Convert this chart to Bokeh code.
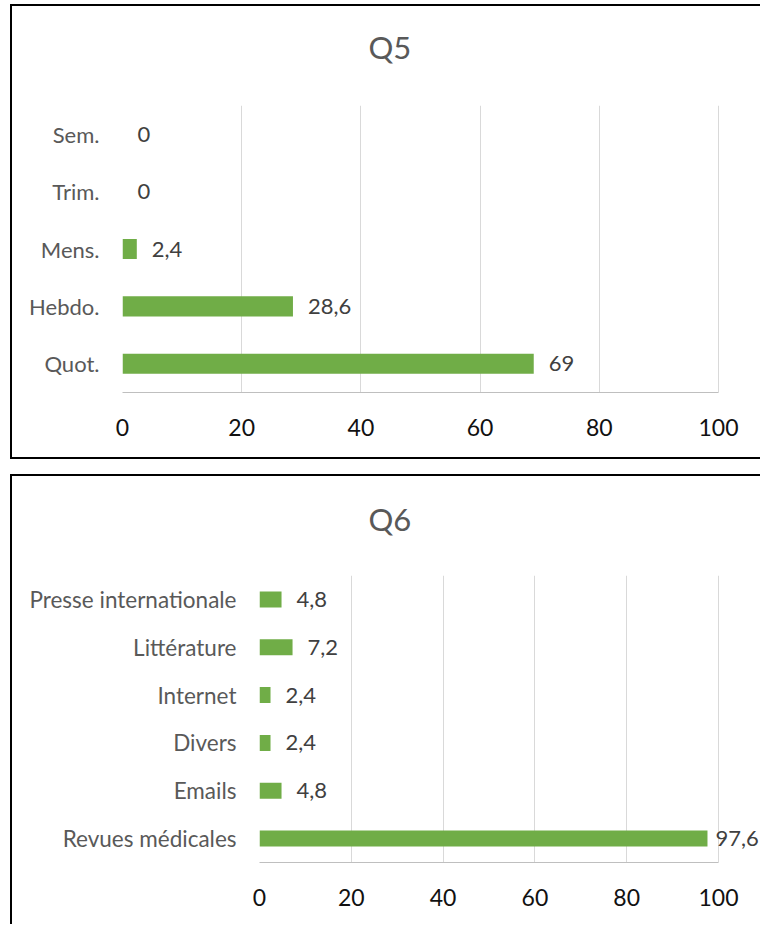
from bokeh.plotting import figure
from bokeh.models import ColumnDataSource, FactorRange, Range1d, FixedTicker, LabelSet, Title
from bokeh.core.properties import value
from bokeh.layouts import column
from bokeh.embed import file_html
from bokeh.resources import INLINE

# ---- data ----
q5_title = "Q5"
q5_categories = ["Sem.", "Trim.", "Mens.", "Hebdo.", "Quot."]   # top to bottom
q5_values = [0, 0, 2.4, 28.6, 69]

q6_title = "Q6"
q6_categories = ["Presse internationale", "Littérature", "Internet", "Divers", "Emails", "Revues médicales"]
q6_values = [4.8, 7.2, 2.4, 2.4, 4.8, 97.6]

x_ticks = [0, 20, 40, 60, 80, 100]
x_limits = [0, 100]

FONT = "Lato"
GREEN = "#70AD47"


def fmt(v):
    return f"{v:g}".replace(".", ",")


def make_chart(title, cats, vals, width, height, mb_left, mb_top, mb_bottom,
               px_per_100, bar_h, title_offset, title_standoff, gap, label_size, styles):
    factors = list(reversed(cats))
    # labels near the right edge sit a bit closer to their bar
    offs = [8 if v > 95 else 15 for v in vals]
    src = ColumnDataSource(dict(cat=cats, val=vals, lab=[fmt(v) for v in vals], off=offs))
    frame_w = width - mb_left
    x_end = x_limits[1] * frame_w / px_per_100
    p = figure(
        width=width, height=height,
        y_range=FactorRange(factors=factors),
        x_range=Range1d(x_limits[0], x_end),
        output_backend="svg", toolbar_location=None,
        min_border_left=mb_left, min_border_right=0,
        min_border_top=mb_top, min_border_bottom=mb_bottom,
        styles=styles,
    )
    p.frame_align = False
    p.title = None
    # blank spacer between the frame and the title
    spacer = Title(text=" ", standoff=gap, text_font_size="1px")
    p.add_layout(spacer, "above")
    t = Title(text=title, align="left", offset=title_offset, standoff=title_standoff,
              text_font=FONT, text_font_size="31px", text_font_style="normal",
              text_color="#595959")
    p.add_layout(t, "above")

    p.hbar(y="cat", left=0, right="val", height=bar_h, source=src,
           fill_color=GREEN, line_color=None)

    labels = LabelSet(x="val", y="cat", text="lab", source=src, x_offset="off",
                      text_baseline="middle", text_align="left",
                      text_font=value(FONT), text_font_size=value("22px"),
                      text_color="#404040")
    p.add_layout(labels)

    p.outline_line_color = None
    p.ygrid.grid_line_color = None
    p.xgrid.grid_line_color = "#d9d9d9"
    p.xgrid.grid_line_width = 1
    p.xaxis.ticker = FixedTicker(ticks=x_ticks)
    p.xaxis.bounds = (x_limits[0], x_limits[1])
    p.xaxis.axis_line_color = "#bfbfbf"
    p.xaxis.axis_line_width = 1
    p.xaxis.major_tick_line_color = None
    p.xaxis.minor_tick_line_color = None
    p.xaxis.major_tick_out = 0
    p.xaxis.major_tick_in = 0
    p.xaxis.major_label_standoff = 26
    p.xaxis.major_label_text_font = FONT
    p.xaxis.major_label_text_font_size = "23px"
    p.xaxis.major_label_text_color = "#111111"

    p.yaxis.axis_line_color = None
    p.yaxis.major_tick_line_color = None
    p.yaxis.minor_tick_line_color = None
    p.yaxis.major_tick_out = 0
    p.yaxis.major_tick_in = 0
    p.yaxis.major_label_standoff = 23
    p.yaxis.major_label_text_font = FONT
    p.yaxis.major_label_text_font_size = label_size
    p.yaxis.major_label_text_color = "#595959"
    return p


p1 = make_chart(q5_title, q5_categories, q5_values, 750, 455, 110, 99, 69, 596, 0.35, 246, 18, 28, "22px",
                {"border-left": "2px solid black", "border-top": "2px solid black",
                 "border-bottom": "2px solid black", "margin-left": "10px",
                 "margin-top": "4px"})
p2 = make_chart(q6_title, q6_categories, q6_values, 750, 450, 247, 99, 64, 459, 0.335, 109, 16, 27, "22.5px",
                {"border-left": "2px solid black", "border-top": "2px solid black",
                 "margin-left": "10px"})

layout = column(p1, p2, spacing=15)
open("out.html", "w").write(file_html(layout, INLINE))
